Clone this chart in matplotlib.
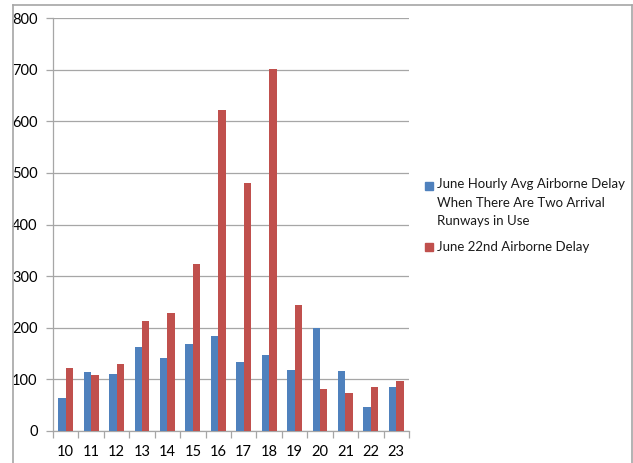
import matplotlib.pyplot as plt
import numpy as np
from matplotlib.lines import Line2D
from matplotlib.patches import Rectangle

# hours of the day
hours = ["10", "11", "12", "13", "14", "15", "16", "17", "18", "19", "20", "21", "22", "23"]
# June hourly avg airborne delay (two arrival runways)
avg_delay = [63, 115, 110, 162, 142, 168, 184, 134, 148, 118, 200, 117, 46, 86]
# June 22nd airborne delay
june22_delay = [123, 108, 129, 213, 228, 323, 622, 480, 701, 244, 81, 73, 86, 97]

label_avg = "June Hourly Avg Airborne Delay\nWhen There Are Two Arrival\nRunways in Use"
label_22 = "June 22nd Airborne Delay"

blue = "#4f81bd"
red = "#c0504d"
grey = "#a6a6a6"

plt.rcParams['font.family'] = ['Lato', 'DejaVu Sans']

fig = plt.figure(figsize=(6.33, 4.63), dpi=100)
ax = fig.add_axes([53 / 633, 1 - 431 / 463, 356 / 633, 413 / 463])

x = np.arange(len(hours))
w = 0.29
ax.bar(x - w / 2, avg_delay, w, color=blue, zorder=3)
ax.bar(x + w / 2, june22_delay, w, color=red, zorder=3)

ax.set_xlim(-0.5, len(hours) - 0.5)
ax.set_ylim(0, 800)
ax.set_yticks(range(0, 801, 100))
ax.yaxis.grid(True, color=grey, linewidth=0.9, zorder=0)
ax.set_xticks(x)
ax.set_xticklabels(hours)
ax.set_xticks(np.arange(-0.5, len(hours)), minor=True)
ax.tick_params(axis='x', which='major', length=0, pad=10, labelsize=10.5)
ax.tick_params(axis='x', which='minor', length=5, color=grey, width=0.9)
ax.tick_params(axis='y', length=5, color=grey, width=0.9, pad=6, labelsize=10.5)

for side in ['top', 'right']:
    ax.spines[side].set_visible(False)
for side in ['left', 'bottom']:
    ax.spines[side].set_color(grey)
    ax.spines[side].set_linewidth(0.9)

fx = lambda px: px / 633
fy = lambda py: 1 - py / 463

# legend, drawn by hand so the swatch sits on the first line
fig.add_artist(Rectangle((fx(425), fy(189.5)), 8 / 633, 8 / 463,
                         color=blue, transform=fig.transFigure))
fig.text(fx(437), fy(178.5), label_avg, fontsize=9.5, va='top', ha='left',
         linespacing=1.62, color='#1a1a1a')
fig.add_artist(Rectangle((fx(425), fy(251)), 8 / 633, 8 / 463,
                         color=red, transform=fig.transFigure))
fig.text(fx(437), fy(247), label_22, fontsize=9.5, va='center', ha='left',
         color='#1a1a1a')

# outer chart border
fig.add_artist(Line2D([fx(13), fx(13)], [fy(4.5), 0], color=grey, lw=1.2))
fig.add_artist(Line2D([fx(13), fx(632)], [fy(4.5), fy(4.5)], color=grey, lw=1.2))
fig.add_artist(Line2D([fx(632), fx(632)], [fy(4.5), 0], color=grey, lw=1.2))

fig.savefig("out.png", dpi=100)
